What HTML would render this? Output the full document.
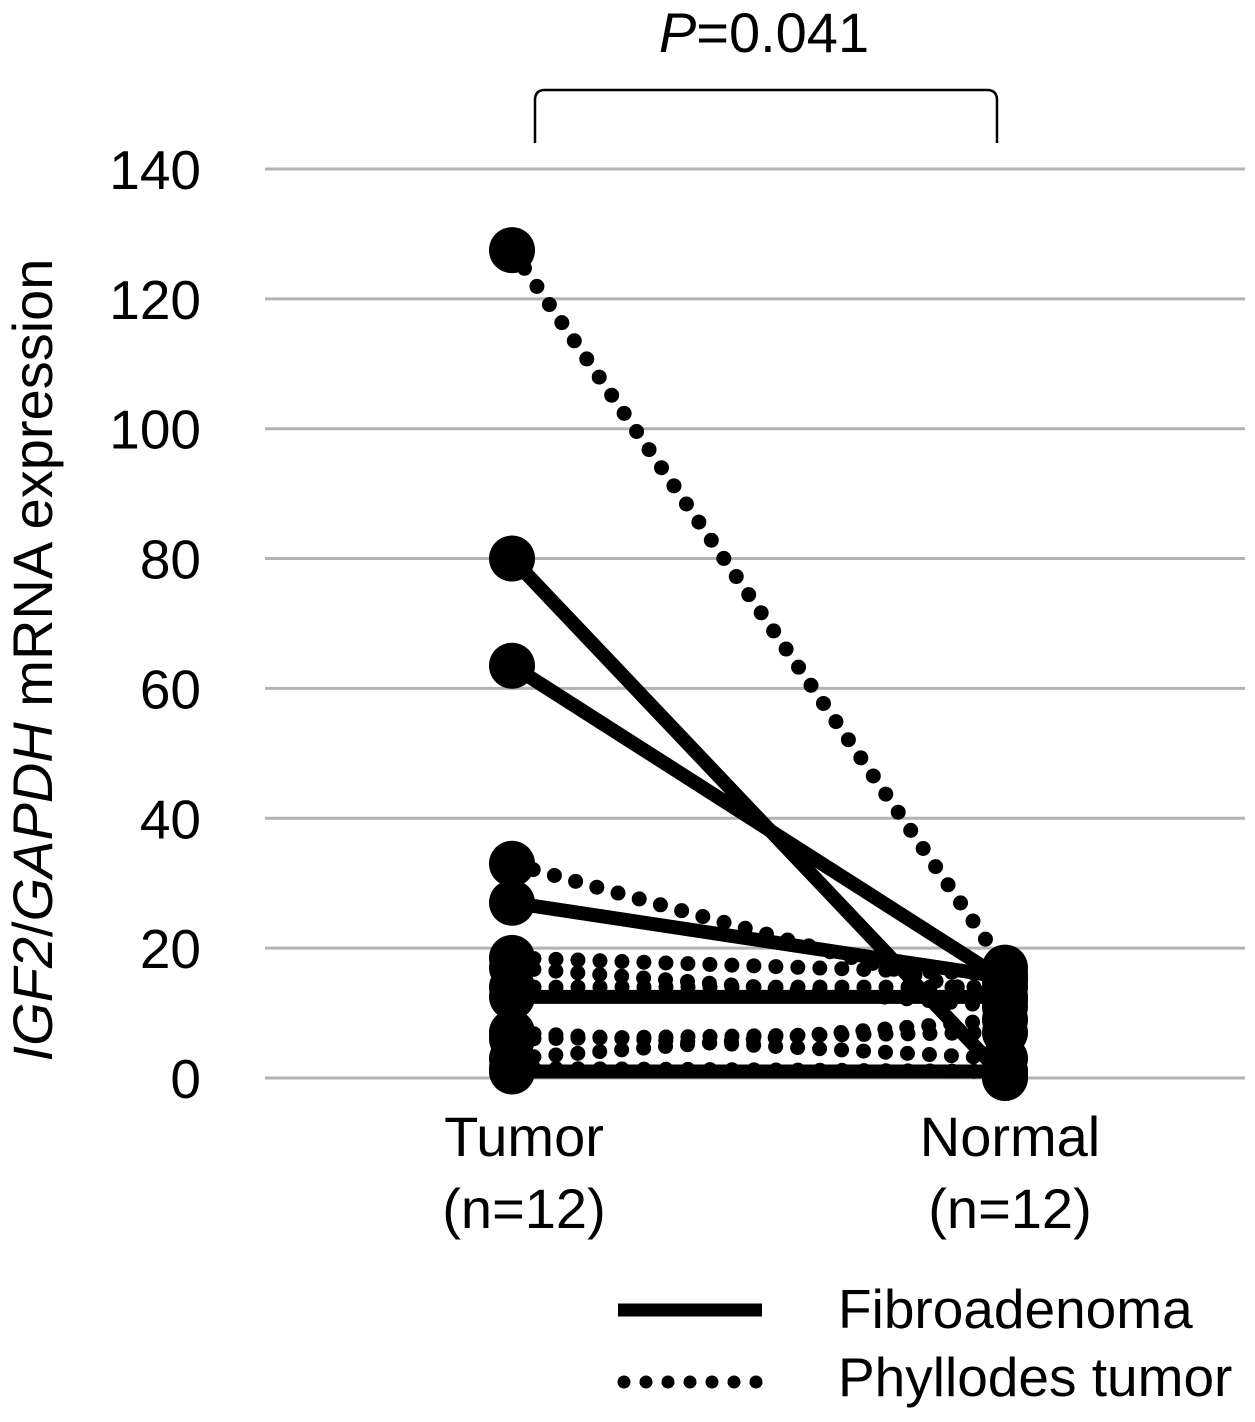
<!DOCTYPE html>
<html><head><meta charset="utf-8"><style>
body{margin:0;background:#fff}
svg text{font-family:"Liberation Sans",sans-serif;fill:#000}
</style></head><body>
<svg width="1255" height="1417" viewBox="0 0 1255 1417">
<g id="grid"></g><g id="yt"></g><g id="lines"></g>
<text x="764" y="52" font-size="56" text-anchor="middle"><tspan font-style="italic">P</tspan>=0.041</text>
<path d="M535,143 V100 Q535,90 545,90 H987 Q997,90 997,100 V143" fill="none" stroke="#000" stroke-width="2.5"/>
<text transform="translate(52,660) rotate(-90)" font-size="56" text-anchor="middle"><tspan font-style="italic">IGF2</tspan>/<tspan font-style="italic">GAPDH</tspan> mRNA expression</text>
<text x="524" y="1156" font-size="56" text-anchor="middle">Tumor</text>
<text x="524" y="1228" font-size="56" text-anchor="middle">(n=12)</text>
<text x="1010" y="1156" font-size="56" text-anchor="middle">Normal</text>
<text x="1010" y="1228" font-size="56" text-anchor="middle">(n=12)</text>
<line x1="618" y1="1310" x2="762" y2="1310" stroke="#000" stroke-width="13"/>
<text x="838" y="1328" font-size="55">Fibroadenoma</text>
<line x1="624" y1="1382" x2="762" y2="1382" stroke="#000" stroke-width="13" stroke-dasharray="0 22" stroke-linecap="round"/>
<text x="838" y="1396" font-size="55">Phyllodes tumor</text>
</svg>
<script>
const ticks=[0,20,40,60,80,100,120,140];
const fibroTumor=[80,63.5,27,12.5,1];
const fibroNormal=[0,15,15.5,12.5,1];
const phylTumor=[127.5,33,18.5,17,14,7,6,3,1.5];
const phylNormal=[17,12,16,11,14,3,7,9,1];
const y=v=>1078-v*6.493;
const xT=512,xN=1005;
const NS='http://www.w3.org/2000/svg';
function mk(t,a,p){const e=document.createElementNS(NS,t);for(const k in a)e.setAttribute(k,a[k]);document.getElementById(p).appendChild(e);return e;}
ticks.forEach(t=>{
 const l=mk('line',{x1:265,x2:1245,y1:y(t),y2:y(t),stroke:'#b3b3b3','stroke-width':3},'grid');
 
 
 const tx=mk('text',{x:201,y:y(t)+20,'font-size':55,'text-anchor':'end'},'yt');tx.textContent=t;
 
 
});
phylTumor.forEach((v,i)=>{
 const l=mk('line',{x1:xT,y1:y(v),x2:xN,y2:y(phylNormal[i]),stroke:'#000','stroke-width':15,'stroke-linecap':'round','stroke-dasharray':'0 22'},'lines');
 
 
});
fibroTumor.forEach((v,i)=>{
 const l=mk('line',{x1:xT,y1:y(v),x2:xN,y2:y(fibroNormal[i]),stroke:'#000','stroke-width':14},'lines');
 
 
});
[...fibroTumor,...phylTumor].forEach(v=>{
 const c=mk('circle',{cx:xT,cy:y(v),r:23,fill:'#000'},'lines');
 
 
});
[...fibroNormal,...phylNormal].forEach(v=>{
 const c=mk('circle',{cx:xN,cy:y(v),r:23,fill:'#000'},'lines');
 
 
});
</script>
</body></html>
